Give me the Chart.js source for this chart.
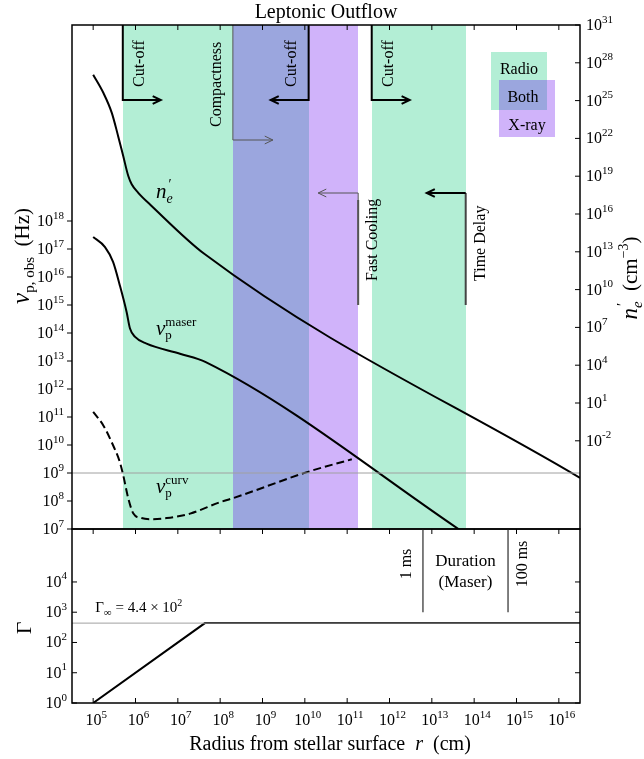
<!DOCTYPE html>
<html>
<head>
<meta charset="utf-8">
<title>Leptonic Outflow</title>
<script src="https://cdn.jsdelivr.net/npm/chart.js@4.4.1/dist/chart.umd.min.js"></script>
<style>
  body { margin: 0; background: #fff; }
  #wrap { position: relative; width: 644px; height: 759px; }
  #topChart { position: absolute; left: 0; top: 0; }
  #bottomChart { position: absolute; left: 0; top: 520px; }
</style>
</head>
<body>
<div id="wrap">
  <canvas id="topChart" width="644" height="545"></canvas>
  <canvas id="bottomChart" width="644" height="239"></canvas>
</div>
<script>
// all values are log10
const xRange = [4.5, 16.5];          // radius r (cm)
const nuRange = [7, 25];             // nu_p,obs (Hz)
const neRange = [-9, 31];            // n'_e (cm^-3)
const gammaRange = [0, 5.75];

const neLogR = [5.0, 5.24, 5.44, 5.59, 5.71, 5.83, 5.91, 6.06, 6.38, 7.64, 16.5];
const neLogN = [27.06, 25.62, 24.03, 22.18, 20.6, 19.01, 18.36, 17.7, 16.64, 12.8, -4.95];

const maserLogR = [5.0, 5.28, 5.47, 5.63, 5.79, 5.87, 5.99, 6.26, 7.05, 7.66, 14.0];
const maserLogNu = [17.43, 17.07, 16.54, 15.7, 14.75, 14.16, 13.86, 13.62, 13.26, 12.96, 6.62];

const curvLogR = [5.0, 5.24, 5.47, 5.63, 5.71, 5.83, 5.95, 6.14, 6.38, 6.74, 7.29, 8.0, 8.3, 10.09, 11.11];
const curvLogNu = [11.18, 10.7, 9.99, 9.39, 8.92, 8.09, 7.55, 7.39, 7.35, 7.39, 7.55, 7.96, 8.1, 9.05, 9.49];

const nuRefLog = 9;

const gammaLogR = [5.0, 7.64, 16.5];
const gammaLog = [0, 2.64, 2.64];
const gammaInfLog = 2.64;

// shaded regions
const bandFrom = [5.70, 8.30, 10.09, 11.58];
const bandTo = [8.30, 10.09, 11.26, 13.80];
const bandKind = ['radio', 'both', 'xray', 'radio'];

// annotation edges
const cutoffEdges = [5.70, 10.09, 11.58];
const cutoffDirs = [1, -1, 1];
const compactnessEdge = 8.30;
const fastCoolingEdge = 11.26;
const timeDelayEdge = 13.80;

const durationLogR = [12.79, 14.80];
const durationLabels = ['1 ms', '100 ms'];

// tick exponents
const xTickExp = [5, 6, 7, 8, 9, 10, 11, 12, 13, 14, 15, 16];
const nuTickExp = [7, 8, 9, 10, 11, 12, 13, 14, 15, 16, 17, 18];
const neTickExp = [-2, 1, 4, 7, 10, 13, 16, 19, 22, 25, 28, 31];
const gammaTickExp = [0, 1, 2, 3, 4];

const bandColors = { radio: '#b3eed5', both: '#9ba6de', xray: '#d0b3fa' };
const SERIF = '"Liberation Serif", "DejaVu Serif", serif';

function fnt(size, it) { return (it ? 'italic ' : '') + size + 'px ' + SERIF; }

function pts(xs, ys) {
    return xs.map((r, i) => ({ x: Math.pow(10, r), y: Math.pow(10, ys[i]) }));
}

// draws text made of pieces: {t, s, dy, it, adv}
function richText(ctx, parts, x, y, align) {
    let w = 0;
    parts.forEach(p => {
        ctx.font = fnt(p.s, p.it);
        if (p.adv !== false) w += ctx.measureText(p.t).width;
    });
    let cx = x;
    if (align === 'center') cx = x - w / 2;
    if (align === 'right') cx = x - w;
    ctx.textAlign = 'left';
    ctx.textBaseline = 'alphabetic';
    parts.forEach(p => {
        ctx.font = fnt(p.s, p.it);
        ctx.fillText(p.t, cx + (p.dx || 0), y + (p.dy || 0));
        if (p.adv !== false) cx += ctx.measureText(p.t).width;
    });
}

function powLabel(ctx, e, x, y, align) {
    richText(ctx, [{ t: '10', s: 16 }, { t: String(e), s: 11, dy: -7.5 }], x, y, align);
}

function vText(ctx, text, size, x, y, align) {
    ctx.save();
    ctx.translate(x, y);
    ctx.rotate(-Math.PI / 2);
    ctx.font = fnt(size);
    ctx.textAlign = align || 'left';
    ctx.textBaseline = 'middle';
    ctx.fillStyle = '#000';
    ctx.fillText(text, 0, 0);
    ctx.restore();
}

function vRich(ctx, parts, x, y) {
    ctx.save();
    ctx.translate(x, y);
    ctx.rotate(-Math.PI / 2);
    ctx.fillStyle = '#000';
    richText(ctx, parts, 0, 0, 'center');
    ctx.restore();
}

function bentArrow(ctx, p, lw, color, head) {
    ctx.save();
    ctx.strokeStyle = color;
    ctx.lineWidth = lw;
    ctx.lineJoin = 'miter';
    ctx.beginPath();
    ctx.moveTo(p[0][0], p[0][1]);
    for (let i = 1; i < p.length; i++) ctx.lineTo(p[i][0], p[i][1]);
    ctx.stroke();
    const [tx, ty] = p[p.length - 1];
    const [fx, fy] = p[p.length - 2];
    const ang = Math.atan2(ty - fy, tx - fx);
    ctx.beginPath();
    ctx.moveTo(tx - head * Math.cos(ang - 0.45), ty - head * Math.sin(ang - 0.45));
    ctx.lineTo(tx, ty);
    ctx.lineTo(tx - head * Math.cos(ang + 0.45), ty - head * Math.sin(ang + 0.45));
    ctx.stroke();
    ctx.restore();
}

function tick(ctx, x0, y0, x1, y1) {
    ctx.beginPath();
    ctx.moveTo(x0, y0);
    ctx.lineTo(x1, y1);
    ctx.stroke();
}

const topDecor = {
    id: 'topDecor',
    beforeDatasetsDraw(chart) {
        const { ctx, chartArea: a, scales: { x } } = chart;
        ctx.save();
        bandFrom.forEach((f, i) => {
            const x0 = Math.round(x.getPixelForValue(Math.pow(10, f)));
            const x1 = Math.round(x.getPixelForValue(Math.pow(10, bandTo[i])));
            ctx.fillStyle = bandColors[bandKind[i]];
            ctx.fillRect(x0, a.top, x1 - x0, a.bottom - a.top);
        });
        ctx.restore();
    },
    afterDatasetsDraw(chart) {
        const { ctx, chartArea: a, scales: { x, y, yR } } = chart;
        const xs = v => x.getPixelForValue(Math.pow(10, v));
        ctx.save();
        ctx.fillStyle = '#000';

        // cut-off arrows
        cutoffEdges.forEach((e, i) => {
            const px = xs(e), d = cutoffDirs[i];
            bentArrow(ctx, [[px, a.top], [px, a.top + 75], [px + 38 * d, a.top + 75]], 2, '#000', 9);
            vText(ctx, 'Cut-off', 16, px + 17 * d, a.top + 62);
        });
        // compactness
        let px = xs(compactnessEdge);
        bentArrow(ctx, [[px, a.top], [px, a.top + 115], [px + 40, a.top + 115]], 1, '#555', 9);
        vText(ctx, 'Compactness', 16, px - 16, a.top + 102);
        // fast cooling
        px = xs(fastCoolingEdge);
        bentArrow(ctx, [[px, a.top + 280], [px, a.top + 168], [px - 40, a.top + 168]], 1, '#555', 9);
        ctx.save(); ctx.strokeStyle = '#555'; ctx.lineWidth = 2;
        tick(ctx, px, a.top + 280, px, a.top + 175); ctx.restore();
        vText(ctx, 'Fast Cooling', 16, px + 15, a.top + 256);
        // time delay
        px = xs(timeDelayEdge);
        ctx.save(); ctx.strokeStyle = '#444'; ctx.lineWidth = 2;
        tick(ctx, px, a.top + 280, px, a.top + 168); ctx.restore();
        bentArrow(ctx, [[px, a.top + 168], [px - 39, a.top + 168]], 2, '#000', 9);
        vText(ctx, 'Time Delay', 16, px + 15, a.top + 256);

        // legend boxes
        ctx.fillStyle = bandColors.radio; ctx.fillRect(491, 52, 56, 58);
        ctx.fillStyle = bandColors.xray; ctx.fillRect(499, 80, 56, 57);
        ctx.fillStyle = bandColors.both; ctx.fillRect(499, 80, 48, 30);
        ctx.fillStyle = '#000';
        ctx.font = fnt(16); ctx.textAlign = 'center'; ctx.textBaseline = 'middle';
        ctx.fillText('Radio', 519, 70);
        ctx.fillText('Both', 523, 98);
        ctx.fillText('X-ray', 527, 126);

        // curve labels
        richText(ctx, [{ t: 'n', s: 21, it: true }, { t: '\u2032', s: 14, dy: -9, dx: 2, adv: false },
            { t: 'e', s: 14, it: true, dy: 5 }], 156, 198, 'left');
        richText(ctx, [{ t: '\u03bd', s: 21, it: true }, { t: 'maser', s: 13, dy: -9, adv: false },
            { t: 'p', s: 13, dy: 4 }], 156, 335, 'left');
        richText(ctx, [{ t: '\u03bd', s: 21, it: true }, { t: 'curv', s: 13, dy: -9, adv: false },
            { t: 'p', s: 13, dy: 4 }], 156, 493, 'left');

        // frame
        ctx.strokeStyle = '#000';
        ctx.lineWidth = 1.5;
        ctx.strokeRect(a.left, a.top, a.right - a.left, a.bottom - a.top);
        ctx.lineWidth = 1;
        xTickExp.forEach(e => { const p = xs(e); tick(ctx, p, a.top, p, a.top + 5); });
        nuTickExp.forEach(e => {
            const p = y.getPixelForValue(Math.pow(10, e));
            tick(ctx, a.left - 5, p, a.left, p);
            powLabel(ctx, e, 64, p + 5, 'right');
        });
        neTickExp.forEach(e => {
            const p = yR.getPixelForValue(Math.pow(10, e));
            tick(ctx, a.right - 5, p, a.right, p);
            powLabel(ctx, e, 586, p + 5, 'left');
        });

        // titles
        ctx.font = fnt(20); ctx.textAlign = 'center'; ctx.textBaseline = 'alphabetic';
        ctx.fillText('Leptonic Outflow', 326, 18);
        vRich(ctx, [{ t: '\u03bd', s: 25, it: true }, { t: 'p, obs', s: 15, dy: 5 }, { t: '  (Hz)', s: 21 }], 29, 256);
        vRich(ctx, [{ t: 'n', s: 23, it: true }, { t: '\u2032', s: 15, dy: -10, dx: 2, adv: false },
            { t: 'e', s: 15, it: true, dy: 5 }, { t: '  (cm', s: 21 }, { t: '\u22123', s: 14, dy: -9 },
            { t: ')', s: 21 }], 637, 278);
        ctx.restore();
    }
};

const bottomDecor = {
    id: 'bottomDecor',
    afterDatasetsDraw(chart) {
        const { ctx, chartArea: a, scales: { x, y } } = chart;
        const xs = v => x.getPixelForValue(Math.pow(10, v));
        ctx.save();
        ctx.fillStyle = '#000';
        ctx.strokeStyle = '#000';
        ctx.lineWidth = 1.5;
        ctx.strokeRect(a.left, a.top, a.right - a.left, a.bottom - a.top);
        ctx.lineWidth = 1;
        xTickExp.forEach(e => {
            const p = xs(e);
            tick(ctx, p, a.top, p, a.top + 5);
            tick(ctx, p, a.bottom - 5, p, a.bottom);
            powLabel(ctx, e, p + 3, a.bottom + 22, 'center');
        });
        gammaTickExp.forEach(e => {
            const p = y.getPixelForValue(Math.pow(10, e));
            tick(ctx, a.left, p, a.left + 5, p);
            tick(ctx, a.right - 5, p, a.right, p);
            powLabel(ctx, e, 67, p + 5, 'right');
        });

        // gamma infinity text
        richText(ctx, [{ t: '\u0393', s: 15 }, { t: '\u221e', s: 11, dy: 4 }, { t: ' = 4.4 \u00d7 10', s: 15 },
            { t: '2', s: 10, dy: -6 }], xs(gammaLogR[0]) + 2, y.getPixelForValue(Math.pow(10, gammaInfLog)) - 11, 'left');

        // duration labels
        durationLogR.forEach((r, i) => {
            const p = xs(r);
            vText(ctx, durationLabels[i], 16, p + (i === 0 ? -16 : 15), a.top + 35, 'center');
        });
        const mid = (xs(durationLogR[0]) + xs(durationLogR[1])) / 2;
        ctx.font = fnt(17); ctx.textAlign = 'center'; ctx.textBaseline = 'alphabetic';
        ctx.fillText('Duration', mid, a.top + 37);
        ctx.fillText('(Maser)', mid, a.top + 58);

        // axis titles
        ctx.save();
        ctx.translate(25, a.top + 99);
        ctx.rotate(-Math.PI / 2);
        ctx.font = fnt(22); ctx.textAlign = 'center'; ctx.textBaseline = 'middle';
        ctx.fillText('\u0393', 0, 0);
        ctx.restore();
        richText(ctx, [{ t: 'Radius from stellar surface  ', s: 20 }, { t: 'r', s: 20, it: true },
            { t: '  (cm)', s: 20 }], 330, a.bottom + 47, 'center');
        ctx.restore();
    }
};

const common = {
    responsive: false,
    animation: false,
    events: [],
    plugins: { legend: { display: false }, tooltip: { enabled: false }, title: { display: false } },
    elements: { point: { radius: 0 }, line: { borderCapStyle: 'butt' } }
};

new Chart(document.getElementById('topChart'), {
    type: 'line',
    data: {
        datasets: [
            { data: pts(xRange, [nuRefLog, nuRefLog]), yAxisID: 'y', borderColor: '#a0a0a0', borderWidth: 1 },
            { data: pts(neLogR, neLogN), yAxisID: 'yR', borderColor: '#000', borderWidth: 2, cubicInterpolationMode: 'monotone' },
            { data: pts(maserLogR, maserLogNu), yAxisID: 'y', borderColor: '#000', borderWidth: 2, cubicInterpolationMode: 'monotone' },
            { data: pts(curvLogR, curvLogNu), yAxisID: 'y', borderColor: '#000', borderWidth: 2, borderDash: [8, 4], cubicInterpolationMode: 'monotone' }
        ]
    },
    options: Object.assign({}, common, {
        layout: { padding: { left: 72, right: 64, top: 25, bottom: 16 } },
        scales: {
            x: { type: 'logarithmic', min: Math.pow(10, xRange[0]), max: Math.pow(10, xRange[1]), display: false },
            y: { type: 'logarithmic', min: Math.pow(10, nuRange[0]), max: Math.pow(10, nuRange[1]), display: false },
            yR: { type: 'logarithmic', position: 'right', min: Math.pow(10, neRange[0]), max: Math.pow(10, neRange[1]), display: false }
        }
    }),
    plugins: [topDecor]
});

new Chart(document.getElementById('bottomChart'), {
    type: 'line',
    data: {
        datasets: [
            { data: pts(xRange, [gammaInfLog, gammaInfLog]), borderColor: '#a0a0a0', borderWidth: 1 },
            { data: pts(gammaLogR, gammaLog), borderColor: '#000', borderWidth: 2 },
            { data: pts([durationLogR[0], durationLogR[0]], [3, gammaRange[1]]), borderColor: '#555', borderWidth: 1.5 },
            { data: pts([durationLogR[1], durationLogR[1]], [3, gammaRange[1]]), borderColor: '#555', borderWidth: 1.5 }
        ]
    },
    options: Object.assign({}, common, {
        layout: { padding: { left: 72, right: 64, top: 9, bottom: 56 } },
        scales: {
            x: { type: 'logarithmic', min: Math.pow(10, xRange[0]), max: Math.pow(10, xRange[1]), display: false },
            y: { type: 'logarithmic', min: Math.pow(10, gammaRange[0]), max: Math.pow(10, gammaRange[1]), display: false }
        }
    }),
    plugins: [bottomDecor]
});
</script>
</body>
</html>
